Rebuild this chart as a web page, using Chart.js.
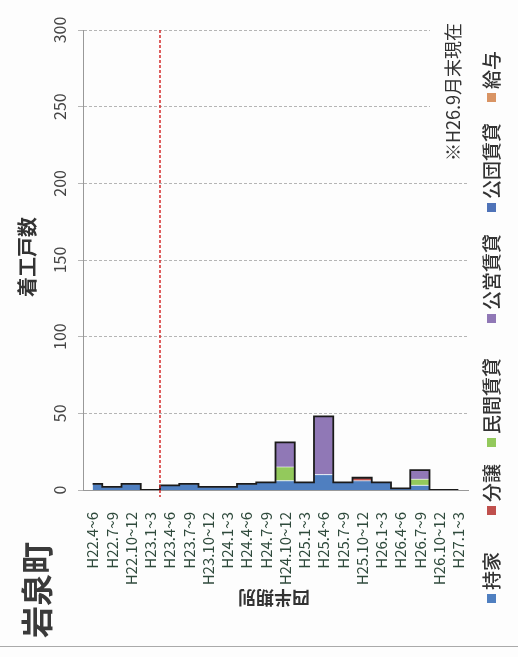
<!DOCTYPE html>
<html lang="ja">
<head>
    <meta charset="UTF-8">
    <title>岩泉町</title>
    <style>
        html,body{margin:0;padding:0;background:#fdfdfd;}
        .container{width:518px;height:657px;position:relative;}
    </style>
</head>
<body>
    <div class="container">
        <canvas id="myChart" width="518" height="657"></canvas>
    </div>
    <script src="https://cdn.jsdelivr.net/npm/chart.js"></script>
    <script>
        // 四半期
        const quarters = ['H22.4~6','H22.7~9','H22.10~12','H23.1~3','H23.4~6','H23.7~9','H23.10~12','H24.1~3','H24.4~6','H24.7~9',
            'H24.10~12','H25.1~3','H25.4~6','H25.7~9','H25.10~12','H26.1~3','H26.4~6','H26.7~9','H26.10~12','H27.1~3'];

        const mochiie  = [4,2,4,0,3,4,2,2,4,5, 6,5,10,5,6,5,1,3,0,0];   // 持家
        const bunjo    = [0,0,0,0,0,0,0,0,0,0, 0,0,0,0,2,0,0,0,0,0];    // 分譲
        const minkan   = [0,0,0,0,0,0,0,0,0,0, 9,0,0,0,0,0,0,4,0,0];    // 民間賃貸
        const koei     = [0,0,0,0,0,0,0,0,0,0, 16,0,38,0,0,0,0,6,0,0];  // 公営賃貸
        const kodan    = [0,0,0,0,0,0,0,0,0,0, 0,0,0,0,0,0,0,0,0,0];    // 公団賃貸
        const kyuyo    = [0,0,0,0,0,0,0,0,0,0, 0,0,0,0,0,0,0,0,0,0];    // 給与

        const yTicks = [0,50,100,150,200,250,300];
        const seriesNames = ['持家','分譲','民間賃貸','公営賃貸','公団賃貸','給与'];
        const seriesColors = ['#4f7fc0','#c0504d','#93c95c','#9078b6','#4f73b8','#d99464'];
        const seriesData = [mochiie,bunjo,minkan,koei,kodan,kyuyo];

        const total = quarters.map((q,i)=>seriesData.reduce((s,arr)=>s+arr[i],0));

        const FONT = '"Noto Sans CJK JP","Noto Sans",sans-serif';

        function rotText(ctx,text,x,y,angle,font,color,align){
            ctx.save()
            ctx.translate(x,y)
            ctx.rotate(angle)
            ctx.font=font
            ctx.fillStyle=color
            ctx.textAlign=align||'center'
            ctx.textBaseline='middle'
            ctx.fillText(text,0,0)
            ctx.restore()
        }

        const decor={
            id:'decor',
            afterDraw(chart){
                const {ctx,scales:{x,y}}=chart;
                const up=-Math.PI/2;

                // 年度の区切り線
                const xs=(x.getPixelForValue(3)+x.getPixelForValue(4))/2;
                ctx.save()
                ctx.strokeStyle='#d42a2a'
                ctx.lineWidth=1.5
                ctx.setLineDash([3,2])
                ctx.beginPath()
                ctx.moveTo(xs,y.getPixelForValue(300))
                ctx.lineTo(xs,y.getPixelForValue(0)+7)
                ctx.stroke()
                ctx.restore()

                // y目盛
                yTicks.forEach(v=>{
                    rotText(ctx,String(v),60,y.getPixelForValue(v),up,'16px '+FONT,'#444')
                })

                // 注記 (白地)
                ctx.fillStyle='#fdfdfd'
                ctx.fillRect(430,12,40,162)
                rotText(ctx,'※H26.9月末現在',453,92,up,'18px '+FONT,'#333')

                // タイトル類
                rotText(ctx,'着工戸数',27,257,up,'bold 20px '+FONT,'#333')
                rotText(ctx,'岩泉町',37,590,up,'bold 32px '+FONT,'#3a3a3a')
                rotText(ctx,'四半期別',274,598,Math.PI,'bold 18px '+FONT,'#333')

                // 凡例
                const legendY=[603,515,447,323,212,102];
                seriesNames.forEach((name,i)=>{
                    ctx.save()
                    ctx.translate(492,legendY[i])
                    ctx.rotate(up)
                    ctx.fillStyle=seriesColors[i]
                    ctx.fillRect(0,-5,9,9)
                    ctx.font='500 19px '+FONT
                    ctx.fillStyle='#333'
                    ctx.textAlign='left'
                    ctx.textBaseline='middle'
                    ctx.fillText(name,13,0)
                    ctx.restore()
                })

                // 下の罫線
                ctx.save()
                ctx.strokeStyle='#aaa'
                ctx.lineWidth=1
                ctx.beginPath()
                ctx.moveTo(0,646.5)
                ctx.lineTo(518,646.5)
                ctx.stroke()
                ctx.restore()
            }
        }

        const datasets=seriesNames.map((name,i)=>({
            label:name,
            data:seriesData[i],
            backgroundColor:seriesColors[i],
            borderColor:'rgba(255,255,255,0.6)',
            borderWidth:1,
            fill:i===0?'origin':'-1',
            stepped:'middle',
            pointRadius:0,
            stack:'main',
            order:0
        }))
        datasets.push({
            label:'',
            data:total,
            borderColor:'#1a1a1a',
            borderWidth:1.8,
            fill:false,
            stepped:'middle',
            pointRadius:0,
            stack:'total',
            order:-1
        })

        const ctx=document.querySelector('#myChart').getContext('2d');
        new Chart(ctx,{
            type:'line',
            data:{labels:quarters,datasets},
            plugins:[decor],
            options:{
                responsive:false,
                animation:false,
                layout:{padding:{left:78,right:50,top:30,bottom:0}},
                plugins:{legend:{display:false},tooltip:{enabled:false}},
                scales:{
                    x:{
                        offset:true,
                        grid:{display:false,offset:true},
                        border:{display:true,color:'#999'},
                        ticks:{
                            minRotation:90,maxRotation:90,autoSkip:false,padding:14,
                            color:'#2f4a3c',
                            font:{family:FONT,size:15}
                        },
                        afterFit(scale){scale.height=167}
                    },
                    y:{
                        stacked:true,
                        min:0,max:300,
                        ticks:{display:false,stepSize:50},
                        grid:{color:'#b5b5b5',tickLength:5},
                        border:{display:true,color:'#999',dash:[3,2]},
                        afterFit(scale){scale.width=5}
                    }
                }
            }
        })
    </script>
</body>
</html>
